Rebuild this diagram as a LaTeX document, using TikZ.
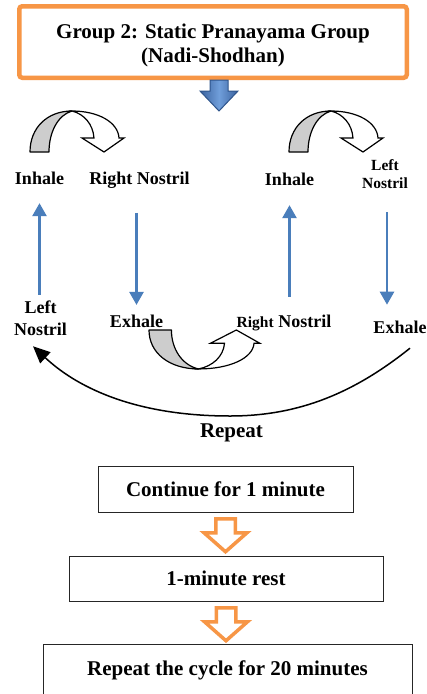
\documentclass[tikz,border=0pt]{standalone}
\usepackage{fontspec}
\setmainfont{Liberation Serif}
\usetikzlibrary{arrows.meta}
\definecolor{orangeacc}{RGB}{247,150,70}
\definecolor{flowblue}{RGB}{74,126,187}
\definecolor{bluedk}{RGB}{58,98,158}
\definecolor{bluelt}{RGB}{112,158,218}
\definecolor{blueedge}{RGB}{47,85,140}
\definecolor{ribbongray}{RGB}{205,205,205}
\tikzset{
  lbl/.style={font=\bfseries\fontsize{18}{22}\selectfont, inner sep=0, outer sep=0, align=center},
  lblsm/.style={font=\bfseries\fontsize{15.5}{18}\selectfont, inner sep=0, outer sep=0, align=center},
  boxtxt/.style={font=\bfseries\fontsize{21}{24}\selectfont, inner sep=0, outer sep=0, align=center},
  stepbox/.style={draw=black!85, line width=1, fill=white, inner sep=0, outer sep=0,
                  font=\bfseries\fontsize{21}{24}\selectfont},
  titlebox/.style={draw=orangeacc, line width=4.5, rounded corners=3, fill=white,
                   minimum width=387.5, minimum height=71.5, inner sep=0, outer sep=0},
  bluearr/.style={draw=flowblue, line width=2.5, -{Triangle[length=13pt,width=14pt]}},
  repeatarr/.style={draw=black, line width=1.5, -{Triangle[length=17pt,width=15pt]}},
  ribbon/.style={draw=black, line width=1.2, line join=round},
  uturn/.pic={
    \filldraw[ribbon, fill=ribbongray] (0,0) .. controls (0,-24) and (17,-41) .. (42,-41)
        .. controls (28,-37) and (19,-20) .. (19,0) -- cycle;
    \filldraw[ribbon, fill=white, line join=miter] (42,-41) .. controls (68,-41) and (88,-30) .. (89,-14)
        -- (94,-14) -- (74,0) -- (52,-14) -- (64,-14)
        .. controls (63,-28) and (54,-38) .. (42,-41) -- cycle;
  },
  hollowdown/.pic={
    \filldraw[draw=orangeacc, line width=3.5, fill=white, line join=miter]
      (-9.75,0) -- (9.75,0) -- (9.75,14) -- (21.5,14) -- (0,33) -- (-21.5,14) -- (-9.75,14) -- cycle;
  },
  bluedown/.pic={
    \path[draw=blueedge, line width=1, left color=bluedk, right color=bluedk, middle color=bluelt]
      (-9,0) -- (9,0) -- (9,11) -- (19,11) -- (0,31) -- (-19,11) -- (-9,11) -- cycle;
  }
}
\begin{document}
\begin{tikzpicture}[x=1pt,y=-1pt]
\useasboundingbox[fill=white] (0,0) rectangle (427,694);

% title
\node[titlebox] (title) at (213,42) {};
\node[boxtxt] (titletext) at (213,45.7) {Group 2: Static Pranayama Group\\(Nadi-Shodhan)};
\pic at ([shift={(6,2.25)}]title.south) {bluedown};

% labels
\node[lbl, anchor=base] (inh1) at (39.5,184) {Inhale};
\node[lbl, anchor=base] (rn1) at (139.5,184) {Right Nostril};
\node[lbl, anchor=base] (inh2) at (289.5,185) {Inhale};
\node[lblsm] (ln2) at (385,174.6) {Left\\Nostril};
\node[lbl] (ln1) at (40.5,317.8) {Left\\Nostril};
\node[lbl, anchor=base] (ex1) at (136.5,327) {Exhale};
\node[lbl, anchor=base] (rn2) at (284,327) {{\fontsize{15.5}{18}\selectfont Right} Nostril};
\node[lbl, anchor=base east] (ex2) at (426.5,333) {Exhale};
\node[boxtxt, anchor=base] (rp) at (231.5,437) {Repeat};

% ribbon arrows
\pic at (30,152) {uturn};
\pic at (289,152) {uturn};
\pic[xscale=1.18, yscale=-0.95] at (149,330) {uturn};

% blue arrows
\draw[bluearr, shorten <=5.6, shorten >=19] (inh1.south |- ln1.north) -- (inh1.south);
\draw[bluearr, shorten <=25, shorten >=9.6] (ex1.north |- rn1.south) -- (ex1.north);
\draw[bluearr, shorten <=17.8, shorten >=20] (inh2.south |- rn2.north) -- (inh2.south);
\draw[bluearr, shorten <=23, shorten >=15.8] ([shift={(2,0)}]ln2.south) -- ([shift={(2,0)}]ln2.south |- ex2.north);

% repeat arrow
\coordinate (rpS) at ([shift={(10,15)}]ex2.south);
\coordinate (rpE) at ([shift={(-7.5,11)}]ln1.south);
\coordinate (rpB) at (230,416);
\draw[repeatarr] (rpS) .. controls +(-55,44) and +(70,0) .. (rpB)
   .. controls +(-90,0) and +(47,44) .. (rpE);

% steps
\node[stepbox, minimum width=255, minimum height=46] (b1) at (225.5,489) {Continue for 1 minute};
\node[stepbox, minimum width=314, minimum height=45] (b2) at (226,578.5) {1-minute rest};
\node[stepbox, minimum width=369, minimum height=52] (b3) at (227.5,670) {Repeat the cycle for 20 minutes};
\pic at ([shift={(0,6.75)}]b1.south) {hollowdown};
\pic at ([shift={(0,6.75)}]b2.south) {hollowdown};
\end{tikzpicture}
\end{document}
